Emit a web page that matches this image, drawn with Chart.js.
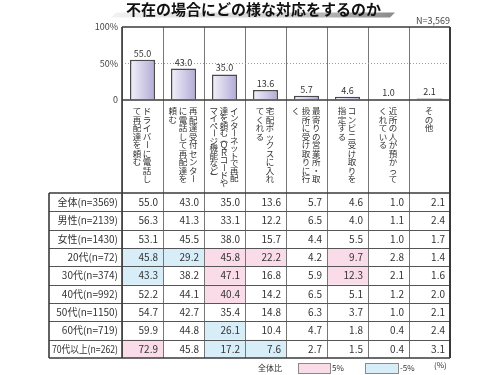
<!DOCTYPE html>
<html><head><meta charset="utf-8">
<script src="https://cdn.jsdelivr.net/npm/chart.js@4"></script>
<style>html,body{margin:0;padding:0;background:#fff}#wrap{width:500px;height:375px;position:relative}canvas{display:block}</style>
</head><body><div id="wrap"><canvas id="c" width="500" height="375" style="width:500px;height:375px"></canvas></div>
<script>
// ---- data ----
const titleText = '不在の場合にどの様な対応をするのか';
const sampleNote = 'N=3,569';
const categories = [
  ['ドライバーに電話し', 'て再配達を頼む'],
  ['再配達受付センター', 'に電話して再配達を', '頼む'],
  ['インターネットで再配', '達を頼む（ＱＲコードや', 'マイページ機能など）'],
  ['宅配ボックスに入れ', 'てくれる'],
  ['最寄りの営業所・取', '扱所に受け取りに行', 'く'],
  ['コンビニ受け取りを', '指定する'],
  ['近所の人が預かって', 'くれている'],
  ['その他']
];
const overall  = [55.0, 43.0, 35.0, 13.6, 5.7, 4.6, 1.0, 2.1];
const male     = [56.3, 41.3, 33.1, 12.2, 6.5, 4.0, 1.1, 2.4];
const female   = [53.1, 45.5, 38.0, 15.7, 4.4, 5.5, 1.0, 1.7];
const age20s   = [45.8, 29.2, 45.8, 22.2, 4.2, 9.7, 2.8, 1.4];
const age30s   = [43.3, 38.2, 47.1, 16.8, 5.9, 12.3, 2.1, 1.6];
const age40s   = [52.2, 44.1, 40.4, 14.2, 6.5, 5.1, 1.2, 2.0];
const age50s   = [54.7, 42.7, 35.4, 14.8, 6.3, 3.7, 1.0, 2.1];
const age60s   = [59.9, 44.8, 26.1, 10.4, 4.7, 1.8, 0.4, 2.4];
const age70up  = [72.9, 45.8, 17.2, 7.6, 2.7, 1.5, 0.4, 3.1];
const rowLabels = ['全体(n=3569)', '男性(n=2139)', '女性(n=1430)', '20代(n=72)', '30代(n=374)',
                   '40代(n=992)', '50代(n=1150)', '60代(n=719)', '70代以上(n=262)'];
const yTicks = [0, 50, 100];
const legendLabels = ['全体比', '5%', '-5%', '(%)'];
const threshold = 5;

const tableRows = [overall, male, female, age20s, age30s, age40s, age50s, age60s, age70up];

// ---- layout (scale units below zero hold the header and the table) ----
const headerUnits = 127.4;
const rowUnits = 25.1;
const yMin = -(headerUnits + tableRows.length * rowUnits);

const JP = '"Noto Sans CJK JP", "Noto Sans", sans-serif';
const DARK = '#3a3a3a';

function geom(chart) {
  const x = chart.scales.x, y = chart.scales.y;
  const step = x.getPixelForValue(1) - x.getPixelForValue(0);
  return {
    x, y, step,
    colL: i => x.getPixelForValue(i) - step / 2,
    colR: i => x.getPixelForValue(i) + step / 2,
    rowT: r => y.getPixelForValue(-headerUnits - r * rowUnits),
  };
}

const tablePlugin = {
  id: 'tablePlugin',
  beforeDraw(chart) {
    const ctx = chart.ctx;
    const g = geom(chart);
    ctx.save();
    // title swoosh + title
    ctx.font = 'bold 15px ' + JP;
    const cx = 253.5;
    const tw = ctx.measureText(titleText).width;
    const l = cx - tw / 2 - 15, r = cx + tw / 2 + 14;
    const grad = ctx.createLinearGradient(l, 0, r, 0);
    grad.addColorStop(0, '#f2f2f2'); grad.addColorStop(0.6, '#cfcfcf'); grad.addColorStop(1, '#8a8a8a');
    ctx.fillStyle = grad;
    ctx.beginPath();
    ctx.moveTo(l + 5, 12.5); ctx.lineTo(r, 12.5); ctx.lineTo(r - 5, 17.5); ctx.lineTo(l, 17.5);
    ctx.closePath(); ctx.fill();
    ctx.fillStyle = '#111';
    ctx.textAlign = 'center'; ctx.textBaseline = 'middle';
    ctx.fillText(titleText, cx, 9);
    // highlighted cells
    tableRows.forEach((row, ri) => {
      row.forEach((v, ci) => {
        const d = v - overall[ci];
        let col = null;
        if (d >= threshold - 0.05) col = '#fadce8';
        else if (d <= -threshold + 0.05) col = '#d7edf8';
        if (col) {
          ctx.fillStyle = col;
          ctx.fillRect(g.colL(ci), g.rowT(ri), g.step, g.rowT(ri + 1) - g.rowT(ri));
        }
      });
    });
    ctx.restore();
  },
  afterDatasetsDraw(chart) {
    const ctx = chart.ctx;
    const meta = chart.getDatasetMeta(0);
    ctx.save();
    ctx.font = '9px ' + JP;
    ctx.fillStyle = '#333';
    ctx.textAlign = 'center'; ctx.textBaseline = 'bottom';
    meta.data.forEach((bar, i) => {
      ctx.fillText(overall[i].toFixed(1), bar.x, bar.y - 2);
    });
    ctx.restore();
  },
  afterDraw(chart) {
    const ctx = chart.ctx;
    const a = chart.chartArea;
    const g = geom(chart);
    const zeroY = g.y.getPixelForValue(0);
    const tableTop = g.rowT(0);
    const tableLeft = a.left - 73;
    ctx.save();
    // N note
    ctx.font = '9px ' + JP; ctx.fillStyle = '#444';
    ctx.textAlign = 'right'; ctx.textBaseline = 'middle';
    ctx.fillText(sampleNote, a.right, 21);

    // row lines
    ctx.strokeStyle = '#555'; ctx.lineWidth = 1;
    for (let r = 1; r < tableRows.length; r++) {
      const yy = Math.round(g.rowT(r)) + 0.5;
      ctx.beginPath(); ctx.moveTo(tableLeft, yy); ctx.lineTo(a.right, yy); ctx.stroke();
    }
    // frame lines
    ctx.strokeStyle = DARK; ctx.lineWidth = 1.6;
    const line = (x1, y1, x2, y2) => { ctx.beginPath(); ctx.moveTo(x1, y1); ctx.lineTo(x2, y2); ctx.stroke(); };
    line(a.left, a.top, a.right, a.top);
    line(a.left, zeroY, a.right, zeroY);
    line(tableLeft, tableTop, a.right, tableTop);
    line(tableLeft, a.bottom, a.right, a.bottom);
    line(a.left, a.top, a.left, a.bottom);
    line(tableLeft, tableTop, tableLeft, a.bottom);
    ctx.lineWidth = 2;
    line(a.right, a.top, a.right, a.bottom);

    // table text
    ctx.fillStyle = '#333';
    ctx.textBaseline = 'middle';
    tableRows.forEach((row, ri) => {
      const yc = (g.rowT(ri) + g.rowT(ri + 1)) / 2;
      ctx.font = '10px ' + JP;
      ctx.textAlign = 'right';
      ctx.fillText(rowLabels[ri], a.left - 4, yc, 66);
      row.forEach((v, ci) => {
        ctx.fillText(v.toFixed(1), g.colR(ci) - 5, yc);
      });
    });

    // vertical category labels
    ctx.font = '8.5px ' + JP;
    ctx.fillStyle = '#333';
    ctx.textAlign = 'center'; ctx.textBaseline = 'middle';
    const rotated = 'ー（）()';
    const weight = ch => ('（）()'.includes(ch) ? 0.6 : 1);
    categories.forEach((lines, ci) => {
      const maxW = Math.max(...lines.map(s => [...s].reduce((t, ch) => t + weight(ch), 0)));
      const adv = Math.min(8.5, 80 / maxW);
      const center = g.x.getPixelForValue(ci) - 0.5;
      const spacing = 10.2;
      lines.forEach((s, li) => {
        const lx = center + ((lines.length - 1) / 2 - li) * spacing;
        let yy = zeroY + 6.5;
        [...s].forEach(ch => {
          const h = adv * weight(ch);
          const yc = yy + h / 2;
          if (rotated.includes(ch)) {
            ctx.save(); ctx.translate(lx, yc); ctx.rotate(Math.PI / 2);
            ctx.fillText(ch, 0, 0); ctx.restore();
          } else {
            ctx.fillText(ch, lx, yc);
          }
          yy += h;
        });
      });
    });

    // legend
    const ly = 368;
    ctx.font = '8px ' + JP; ctx.fillStyle = '#333';
    ctx.textAlign = 'left';
    ctx.fillText(legendLabels[0], 258, ly);
    ctx.fillStyle = '#fadce8'; ctx.fillRect(298, 363, 32, 10);
    ctx.strokeStyle = '#8a8a8a'; ctx.lineWidth = 1; ctx.strokeRect(298.5, 363.5, 32, 10);
    ctx.fillStyle = '#333'; ctx.fillText(legendLabels[1], 332, ly);
    ctx.fillStyle = '#d7edf8'; ctx.fillRect(365, 363, 33, 10);
    ctx.strokeRect(365.5, 363.5, 33, 10);
    ctx.fillStyle = '#333'; ctx.fillText(legendLabels[2], 400, ly);
    ctx.fillText(legendLabels[3], 434, ly - 3);
    ctx.restore();
  }
};

new Chart(document.getElementById('c'), {
  type: 'bar',
  data: {
    labels: categories,
    datasets: [{
      data: overall,
      borderColor: '#4a4a4a',
      borderWidth: 1.5,
      borderSkipped: 'bottom',
      barPercentage: 0.61,
      categoryPercentage: 1,
      backgroundColor: (c) => {
        const ch = c.chart, xs = ch.scales && ch.scales.x;
        if (!ch.chartArea || !xs || c.dataIndex === undefined) return '#d0cbe7';
        const cx = xs.getPixelForValue(c.dataIndex);
        const w = (xs.getPixelForValue(1) - xs.getPixelForValue(0)) * 0.61;
        const gr = ch.ctx.createLinearGradient(cx - w / 2, 0, cx + w / 2, 0);
        gr.addColorStop(0, '#f3f2fa');
        gr.addColorStop(1, '#b2aad6');
        return gr;
      }
    }]
  },
  options: {
    responsive: false,
    maintainAspectRatio: false,
    animation: false,
    devicePixelRatio: 1,
    layout: { padding: { top: 27, left: 49, right: 50, bottom: 17 } },
    plugins: { legend: { display: false }, tooltip: { enabled: false }, title: { display: false } },
    scales: {
      x: {
        offset: true,
        grid: { offset: true, color: '#777', lineWidth: 1, drawTicks: false },
        border: { display: false },
        ticks: { display: false },
        afterFit: s => { s.height = 0; }
      },
      y: {
        min: yMin, max: 100,
        afterBuildTicks: s => { s.ticks = yTicks.map(v => ({ value: v })); },
        afterFit: s => { s.width = 73; },
        border: { display: false, dash: [1, 2] },
        grid: {
          drawTicks: false,
          color: c => (c.tick && c.tick.value === 50 ? '#9a9a9a' : 'rgba(0,0,0,0)'),
          lineWidth: 1
        },
        ticks: {
          padding: 4,
          color: '#444',
          font: { size: 9, family: JP },
          callback: v => (v === 0 ? '0' : v + '%')
        }
      }
    }
  },
  plugins: [tablePlugin]
});
</script></body></html>
